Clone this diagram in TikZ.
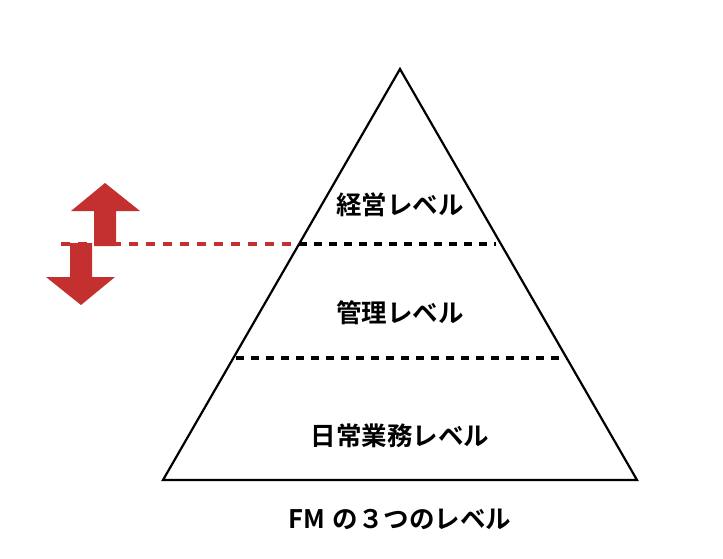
\documentclass[tikz,border=0pt]{standalone}
\usepackage{fontspec}
\newfontfamily\jp{Noto Sans CJK JP}[BoldFont={* Bold}]
\definecolor{arrred}{RGB}{196,48,48}
\tikzset{
  lbl/.style={font=\jp\bfseries\fontsize{25.5}{30}\selectfont, inner sep=0pt},
  blackdash/.style={draw=black, line width=3.5pt, dash pattern=on 8pt off 7pt},
  reddash/.style={draw=arrred, line width=3.5pt, dash pattern=on 9pt off 8pt},
  redarrow/.style={fill=arrred, draw=none}
}
\begin{document}
\begin{tikzpicture}[x=1pt,y=-1pt]
\useasboundingbox (0,0) rectangle (723,558);
% triangle
\coordinate (apex) at (400,69);
\coordinate (bl) at (163,480);
\coordinate (br) at (637,480);
\draw[line width=2.2pt, line join=miter] (apex) -- (bl) -- (br) -- cycle;
% dashed lines
\coordinate (r0) at (61,244);
\coordinate (r1) at (299,244);
\coordinate (b1) at (496,244);
\coordinate (c0) at (236,358);
\coordinate (c1) at (567,358);
\draw[reddash] (r0) -- (r1);
\draw[blackdash] (r1) -- (b1);
\draw[blackdash] (c0) -- (c1);
% arrows
\fill[redarrow] (105,183) -- (140,211) -- (116,211) -- (116,246) -- (94,246) -- (94,211) -- (71,211) -- cycle;
\fill[redarrow] (81,305) -- (115,277) -- (92,277) -- (92,243) -- (70,243) -- (70,277) -- (46,277) -- cycle;
% labels
\node[lbl] (top) at (400,205) {経営レベル};
\node[lbl] (mid) at (400,313) {管理レベル};
\node[lbl] (bot) at (400,436) {日常業務レベル};
\node[lbl] (cap) at (400,519) {FM\hspace{0.3em}の３つのレベル};
\end{tikzpicture}
\end{document}
